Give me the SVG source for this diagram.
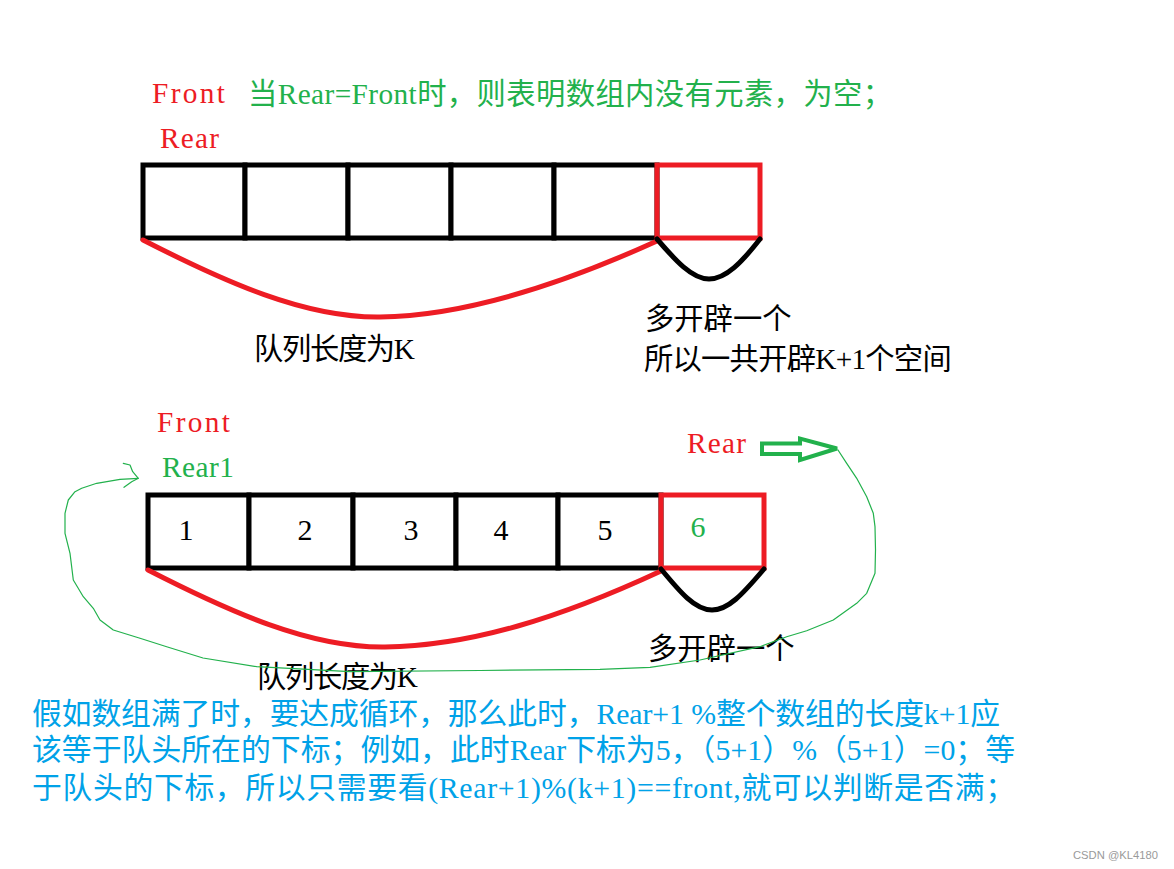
<svg xmlns="http://www.w3.org/2000/svg" width="1174" height="869" viewBox="0 0 1174 869">
<style>
.t{font-family:'Liberation Serif','Noto Sans CJK SC',serif;font-size:29.3px}
.b{font-family:'Liberation Serif','Noto Sans CJK SC',serif;font-size:29.8px;fill:#00A2E8}
.red{fill:#ED1C24}.grn{fill:#22B14C}.blk{fill:#000}
.cell{fill:#fff;stroke:#000;stroke-width:5}
.rcell{fill:none;stroke:#ED1C24;stroke-width:5}
.rcurve{fill:none;stroke:#ED1C24;stroke-width:5;stroke-linecap:round}
.kcurve{fill:none;stroke:#000;stroke-width:5;stroke-linecap:round}
.num{font-family:'Liberation Serif',serif;font-size:30px;text-anchor:middle}
</style>
<rect width="1174" height="869" fill="#fff"/>

<g id="labels-top">
<text class="t red" x="152" y="103" textLength="73" lengthAdjust="spacing">Front</text>
<text class="t red" x="160" y="148" textLength="59" lengthAdjust="spacing">Rear</text>
<text class="t grn" x="248" y="104.4" textLength="644" lengthAdjust="spacing">当Rear=Front时，则表明数组内没有元素，为空；</text>
</g>

<g id="array1">
<rect class="cell" x="143" y="165" width="102" height="73"/>
<rect class="cell" x="245" y="165" width="103" height="73"/>
<rect class="cell" x="348" y="165" width="103" height="73"/>
<rect class="cell" x="451" y="165" width="103" height="73"/>
<rect class="cell" x="554" y="165" width="103" height="73"/>
<rect class="rcell" x="657" y="165" width="103" height="73"/>
</g>

<g id="labels-mid">
<text class="t blk" x="254" y="359.4" textLength="161" lengthAdjust="spacing">队列长度为K</text>
<text class="t blk" x="645" y="329.4" textLength="146.5" lengthAdjust="spacing">多开辟一个</text>
<text class="t blk" x="644" y="369.4" textLength="307.7" lengthAdjust="spacing">所以一共开辟K+1个空间</text>
</g>

<g id="labels-second">
<text class="t red" x="157" y="431.7" textLength="73" lengthAdjust="spacing">Front</text>
<text class="t grn" x="162" y="476.7" textLength="72" lengthAdjust="spacing">Rear1</text>
<text class="t red" x="687" y="453.3" textLength="59" lengthAdjust="spacing">Rear</text>
</g>

<g id="array2">
<rect class="cell" x="148" y="495" width="101" height="73"/>
<rect class="cell" x="249" y="495" width="104" height="73"/>
<rect class="cell" x="353" y="495" width="103" height="73"/>
<rect class="cell" x="456" y="495" width="102" height="73"/>
<rect class="cell" x="558" y="495" width="103" height="73"/>
<rect class="rcell" x="661" y="495" width="103" height="73"/>
<text class="num blk" x="186" y="540">1</text>
<text class="num blk" x="305" y="540">2</text>
<text class="num blk" x="411" y="540">3</text>
<text class="num blk" x="501" y="540">4</text>
<text class="num blk" x="605" y="540">5</text>
<text class="num grn" x="698" y="537">6</text>
</g>

<g id="labels-bottom">
<text class="t blk" x="648" y="659.4" textLength="146.5" lengthAdjust="spacing">多开辟一个</text>
<text class="t blk" x="257" y="686.8" textLength="161" lengthAdjust="spacing">队列长度为K</text>
</g>

<g id="connectors">
<path class="rcurve" d="M143,240 C225,282 305,318 380,317 C465,316 560,285 657,241"/>
<path class="kcurve" d="M657,239 C675,260 692,279 709,279 C726,279 742,262 760,239"/>
<path class="rcurve" d="M148,570 C230,612 310,648 385,647 C470,646 560,618 661,571"/>
<path class="kcurve" d="M661,569 C680,592 695,610 712,610 C728,610 742,595 764,569"/>
<polygon points="762,443.5 800,443.5 800,438.5 837,448.5 800,460 800,454 762,454" fill="#fff" stroke="#22B14C" stroke-width="4" stroke-linejoin="miter" stroke-miterlimit="3"/>
<path fill="none" stroke="#22B14C" stroke-width="1.2" stroke-linejoin="round" stroke-linecap="round" d="M838,450 L846.7,463.3 L856.7,478.3 L866.7,496.7 L873.3,513.3 L875,526.7 L875.5,550 L875,573.3 L866.7,593.3 L856.7,603.3 L833.3,620 L806.7,630.7 L786.7,636.7 L760,646.7 L700,660 L650,667.3 L600,669.3 L480,670.5 L350,671.7 L256.7,666.7 L203,658 L166.7,646.7 L140,638.3 L113.3,630 L100,620 L93.3,608.3 L83.3,596.7 L73.3,580 L70,553.3 L65,533.3 L65,513.3 L68.3,500 L75,491.7 L81.7,488.3 L96.7,483.3 L120,479.3 L138.3,478.3"/>
<path fill="none" stroke="#22B14C" stroke-width="1.2" stroke-linejoin="round" stroke-linecap="round" d="M123.3,463.3 L130,465 L132.7,471.7 L138.3,478.3 L131.7,481.7 L124,487.3"/>
</g>

<g id="explanation">
<text class="b" x="32" y="724.4" textLength="968" lengthAdjust="spacing">假如数组满了时，要达成循环，那么此时，Rear+1 %整个数组的长度k+1应</text>
<text class="b" x="32" y="760.4" textLength="983" lengthAdjust="spacing">该等于队头所在的下标；例如，此时Rear下标为5，（5+1）%（5+1）=0；等</text>
<text class="b" x="32" y="797.7" textLength="983" lengthAdjust="spacing">于队头的下标，所以只需要看(Rear+1)%(k+1)==front,就可以判断是否满；</text>
</g>

<text x="1073" y="859" font-family="'Liberation Sans',Arial,sans-serif" font-size="11.3" fill="#9a9a9a" textLength="85" lengthAdjust="spacingAndGlyphs">CSDN @KL4180</text>
</svg>
